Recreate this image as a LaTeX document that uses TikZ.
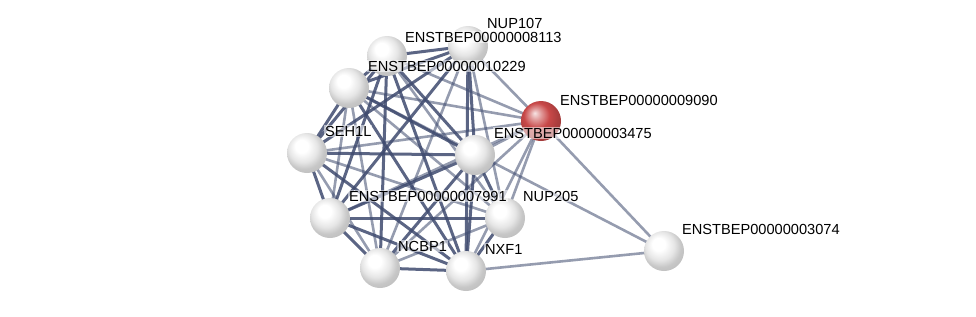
\documentclass[tikz,border=0pt]{standalone}
\usepackage{fontspec}
\setmainfont{Liberation Sans}
\usepackage{xcolor}
\definecolor{edgeCol}{HTML}{3E4A6E}
\definecolor{ballRed}{HTML}{C84848}
\usetikzlibrary{backgrounds}
\pgfdeclareradialshading{greyball}{\pgfpoint{-8bp}{10bp}}{color(0bp)=(white); color(8bp)=(white);
  color(18bp)=(white!90!black); color(25bp)=(white!78!black); color(50bp)=(white!65!black)}
\pgfdeclareradialshading{redball}{\pgfpoint{-8bp}{10bp}}{color(0bp)=(white!85!ballRed); color(7bp)=(white!45!ballRed);
  color(16bp)=(ballRed); color(25bp)=(ballRed!85!black); color(50bp)=(ballRed!60!black)}

\begin{document}
\begin{tikzpicture}[
    x=1pt, y=-1pt,
    every node/.style={font=\fontsize{14.6}{16}\selectfont},
    prot/.style={circle, minimum size=40pt, inner sep=0pt, shading=greyball},
    query/.style={prot, shading=redball},
    plabel/.style={anchor=west, inner sep=1pt, fill=white, fill opacity=0.55, text opacity=1},
    strong/.style={draw=edgeCol, opacity=0.85, line width=3pt},
    weak/.style={draw=edgeCol, opacity=0.55, line width=2.6pt}
]
\useasboundingbox (0,0) rectangle (976,316);
% Proteins
\node[prot]  (n8113)  at (387, 56)  {};
\node[prot]  (nup107) at (468, 46)  {};
\node[prot]  (n10229) at (349, 88)  {};
\node[prot]  (seh1l)  at (307, 153) {};
\node[query] (n9090)  at (541, 121) {};
\node[prot]  (n3475)  at (475, 155) {};
\node[prot]  (n7991)  at (330, 218) {};
\node[prot]  (nup205) at (505, 218) {};
\node[prot]  (ncbp1)  at (380, 268) {};
\node[prot]  (nxf1)   at (466, 271) {};
\node[prot]  (n3074)  at (664, 251) {};
% Labels
\node[plabel] (l107)   at ([shift={(18,-23)}]nup107.center) {NUP107};
\node[plabel] (l8113)  at ([shift={(17,-19)}]n8113.center)  {ENSTBEP00000008113};
\node[plabel] (l10229) at ([shift={(18,-22)}]n10229.center) {ENSTBEP00000010229};
\node[plabel] (lseh)   at ([shift={(17,-22)}]seh1l.center)  {SEH1L};
\node[plabel] (l9090)  at ([shift={(18,-21)}]n9090.center)  {ENSTBEP00000009090};
\node[plabel] (l3475)  at ([shift={(18,-22)}]n3475.center)  {ENSTBEP00000003475};
\node[plabel] (l7991)  at ([shift={(18,-22)}]n7991.center)  {ENSTBEP00000007991};
\node[plabel] (l205)   at ([shift={(17,-22)}]nup205.center) {NUP205};
\node[plabel] (lncbp)  at ([shift={(17,-22)}]ncbp1.center)  {NCBP1};
\node[plabel] (lnxf)   at ([shift={(18,-22)}]nxf1.center)   {NXF1};
\node[plabel] (l3074)  at ([shift={(17,-22)}]n3074.center)  {ENSTBEP00000003074};
% Edges
\begin{pgfonlayer}{background}
\foreach \a/\b in {n8113/nup107, n8113/n10229, n8113/seh1l, n8113/n3475, n8113/n7991,
                   n8113/nxf1, n8113/ncbp1, nup107/n10229, nup107/seh1l, nup107/n3475,
                   nup107/nxf1, nup107/n7991, n10229/seh1l, n10229/n3475, n10229/nxf1,
                   seh1l/n3475, seh1l/n7991, seh1l/nxf1, n3475/n7991, n3475/nxf1,
                   n3475/nup205, n7991/nup205, n7991/ncbp1, n7991/nxf1, ncbp1/nxf1,
                   nup205/nxf1, ncbp1/n3475}
  \draw[strong] (\a.center) -- (\b.center);
\foreach \a/\b in {n8113/nup205, nup107/ncbp1, nup107/nup205, nup107/n9090, n8113/n9090,
                   n10229/n9090, n10229/n7991, n10229/ncbp1, n10229/nup205, seh1l/n9090,
                   seh1l/ncbp1, seh1l/nup205, n9090/n3475, n9090/n7991, n9090/nup205,
                   n9090/nxf1, n9090/ncbp1, ncbp1/nup205,
                   n9090/n3074, nxf1/n3074, n10229/n3074}
  \draw[weak] (\a.center) -- (\b.center);
\end{pgfonlayer}
\end{tikzpicture}
\end{document}
